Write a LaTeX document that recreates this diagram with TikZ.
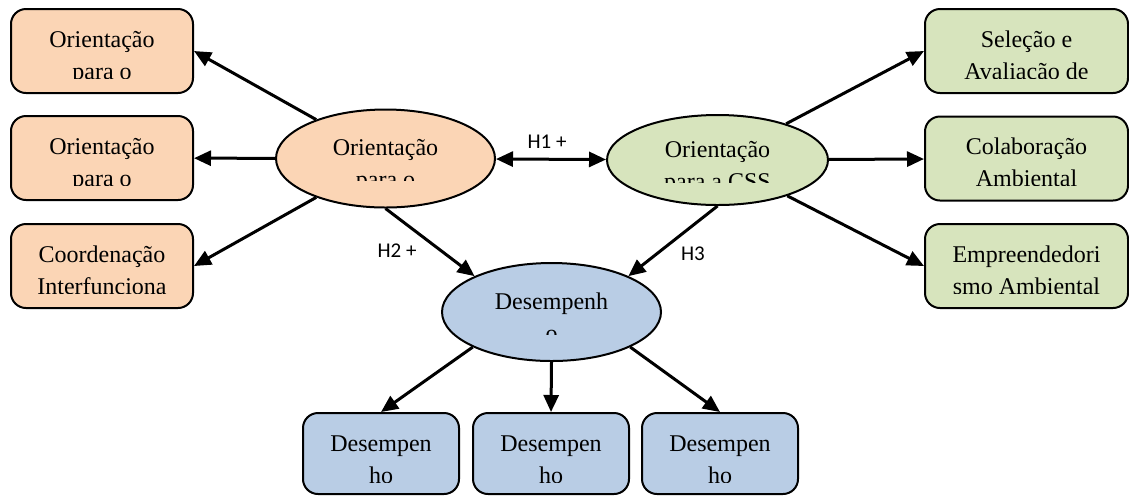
\documentclass[tikz,border=0pt]{standalone}
\usepackage{fontspec}
\setmainfont{Liberation Serif}
\newfontfamily\lblfont{Carlito}
\usetikzlibrary{shapes.geometric,arrows.meta}
\definecolor{laranja}{HTML}{FBD5B5}
\definecolor{verde}{HTML}{D7E4BD}
\definecolor{azul}{HTML}{B9CDE5}
\tikzset{
  caixa/.style={draw, line width=1pt, rounded corners=7.5pt, minimum height=42pt, inner sep=0pt},
  elipse/.style={ellipse, draw, line width=1pt, inner sep=0pt, minimum width=109.5pt, minimum height=49pt},
  txt/.style={anchor=base, align=center, inner sep=0pt, font=\fontsize{12}{16}\selectfont},
  % base = linha de baixo
  txtcaixa/.style={path picture={
      \clip ([yshift=-34.5pt]path picture bounding box.north west) rectangle (path picture bounding box.north east);
      \node[txt] at ([yshift=-35pt]path picture bounding box.north) {#1};}},
  txtelipse/.style={path picture={
      \clip ([yshift=-11pt]path picture bounding box.west) rectangle (path picture bounding box.north east);
      \node[txt] at ([yshift=-14.5pt]path picture bounding box.center) {#1};}},
  seta/.style={-{Triangle[length=8.5pt,width=7.5pt]}, line width=1.5pt},
  rotulo/.style={font=\lblfont\fontsize{10.5}{12}\selectfont, inner sep=0pt}
}
\begin{document}
\begin{tikzpicture}[x=0.5pt, y=-0.5pt]
  \useasboundingbox (0,0) rectangle (1129,495);
  % construtos
  \node[elipse, fill=laranja, txtelipse={Orientação\\para o}] (lell) at (385.5,158.5) {};
  \node[elipse, fill=verde, minimum width=110.5pt, minimum height=45pt, txtelipse={Orientação\\para a CSS}] (rell) at (717.5,160) {};
  \node[elipse, fill=azul, txtelipse={Desempenh\\o}] (dell) at (551.5,312) {};
  % dimensoes
  \node[caixa, fill=laranja, minimum width=91pt, txtcaixa={Orientação\\para o}] (lb1) at (102,51) {};
  \node[caixa, fill=laranja, minimum width=91pt, txtcaixa={Orientação\\para o}] (lb2) at (102,158) {};
  \node[caixa, fill=laranja, minimum width=91pt, txtcaixa={Coordenação\\Interfunciona}] (lb3) at (102,266) {};
  \node[caixa, fill=verde, minimum width=101.5pt, txtcaixa={Seleção e\\Avaliacão de}] (rb1) at (1026.5,51) {};
  \node[caixa, fill=verde, minimum width=101.5pt, txtcaixa={Colaboração\\Ambiental}] (rb2) at (1026.5,158.5) {};
  \node[caixa, fill=verde, minimum width=101.5pt, txtcaixa={Empreendedori\\smo Ambiental}] (rb3) at (1026.5,266) {};
  \node[caixa, fill=azul, minimum width=78pt, minimum height=40.5pt, txtcaixa={Desempen\\ho}] (db1) at (381,453.5) {};
  \node[caixa, fill=azul, minimum width=78pt, minimum height=40.5pt, txtcaixa={Desempen\\ho}] (db2) at (551,453.5) {};
  \node[caixa, fill=azul, minimum width=78pt, minimum height=40.5pt, txtcaixa={Desempen\\ho}] (db3) at (720,453.5) {};
  % setas
  \foreach \b in {lb1.east, lb2, lb3.east}
    \draw[seta] (lell) -- (\b);
  \foreach \b in {rb1.west, rb2, rb3.west}
    \draw[seta] (rell) -- (\b);
  \foreach \a/\b in {dell.204/db1.north, dell.south/db2.north, dell.-24/db3.north}
    \draw[seta] (\a) -- (\b);
  \draw[seta, {Triangle[length=8.5pt,width=7.5pt]}-{Triangle[length=8.5pt,width=7.5pt]}] (lell) -- (rell);
  \draw[seta] (lell.south) -- (dell.155);
  \draw[seta] (rell.south) -- (dell.25);
  \node[rotulo] (h1) at (547,142) {H1 +};
  \node[rotulo] (h2) at (397,251) {H2 +};
  \node[rotulo] (h3) at (693,254) {H3};
\end{tikzpicture}
\end{document}
